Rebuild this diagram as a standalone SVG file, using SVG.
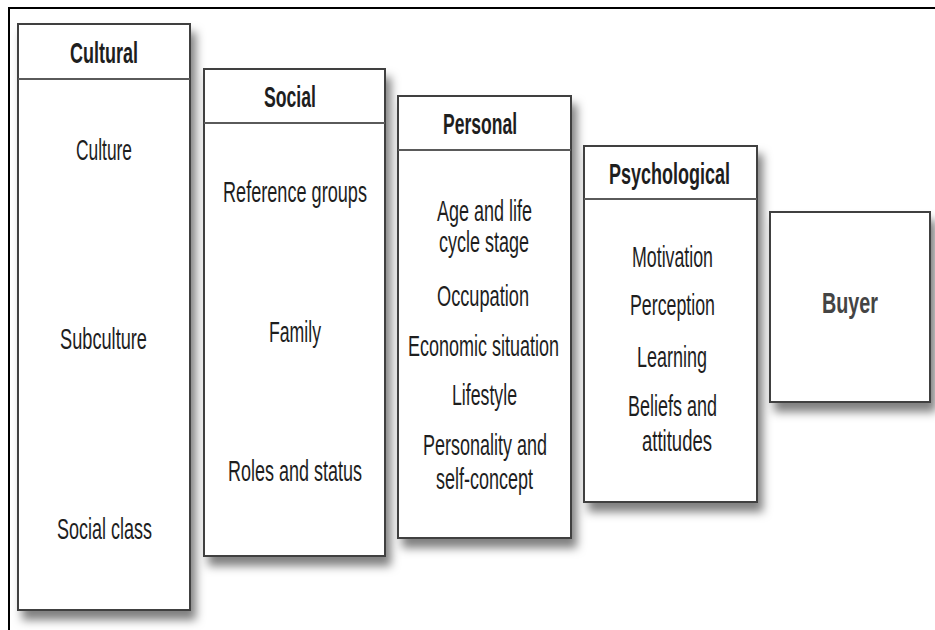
<svg xmlns="http://www.w3.org/2000/svg" width="935" height="630" viewBox="0 0 935 630">
<defs>
<filter id="sh" x="-20%" y="-20%" width="150%" height="150%">
<feDropShadow dx="5" dy="9" stdDeviation="5" flood-color="#000" flood-opacity="0.5"/>
</filter>
</defs>
<style>
.box{fill:#fff;stroke:#404040;stroke-width:2;filter:url(#sh)}
.div{stroke:#5a5a5a;stroke-width:2}
text{font-family:"Liberation Sans",Arial,sans-serif;font-size:30px;fill:#1e1e1e;text-anchor:middle}
.h{font-weight:bold}
.buyer{font-weight:bold;fill:#444}
</style>
<rect x="0" y="0" width="935" height="630" fill="#fff"/>
<rect x="9" y="8" width="940" height="640" fill="none" stroke="#000" stroke-width="2"/>
<g id="cultural">
<rect class="box" x="18" y="24" width="172" height="586"/>
<line class="div" x1="18" y1="79" x2="190" y2="79"/>
<text class="h" x="104" y="63" textLength="68" lengthAdjust="spacingAndGlyphs">Cultural</text>
<text x="104" y="160" textLength="56" lengthAdjust="spacingAndGlyphs">Culture</text>
<text x="103.5" y="349" textLength="87" lengthAdjust="spacingAndGlyphs">Subculture</text>
<text x="104.5" y="539" textLength="95" lengthAdjust="spacingAndGlyphs">Social class</text>
</g>
<g id="social">
<rect class="box" x="204" y="69" width="181" height="487"/>
<line class="div" x1="204" y1="123" x2="385" y2="123"/>
<text class="h" x="290" y="107" textLength="52" lengthAdjust="spacingAndGlyphs">Social</text>
<text x="295" y="202" textLength="144" lengthAdjust="spacingAndGlyphs">Reference groups</text>
<text x="295" y="342" textLength="52" lengthAdjust="spacingAndGlyphs">Family</text>
<text x="295" y="481" textLength="134" lengthAdjust="spacingAndGlyphs">Roles and status</text>
</g>
<g id="personal">
<rect class="box" x="398" y="96" width="173" height="442"/>
<line class="div" x1="398" y1="150" x2="571" y2="150"/>
<text class="h" x="480" y="134" textLength="74" lengthAdjust="spacingAndGlyphs">Personal</text>
<text x="484.5" y="221" textLength="95" lengthAdjust="spacingAndGlyphs">Age and life</text>
<text x="484" y="252" textLength="90" lengthAdjust="spacingAndGlyphs">cycle stage</text>
<text x="483" y="306" textLength="92" lengthAdjust="spacingAndGlyphs">Occupation</text>
<text x="483.5" y="356" textLength="151" lengthAdjust="spacingAndGlyphs">Economic situation</text>
<text x="484.5" y="405" textLength="65" lengthAdjust="spacingAndGlyphs">Lifestyle</text>
<text x="485" y="455" textLength="124" lengthAdjust="spacingAndGlyphs">Personality and</text>
<text x="484.5" y="489" textLength="97" lengthAdjust="spacingAndGlyphs">self-concept</text>
</g>
<g id="psychological">
<rect class="box" x="584" y="146" width="173" height="356"/>
<line class="div" x1="584" y1="199" x2="757" y2="199"/>
<text class="h" x="669.5" y="184" textLength="121" lengthAdjust="spacingAndGlyphs">Psychological</text>
<text x="672.5" y="267" textLength="81" lengthAdjust="spacingAndGlyphs">Motivation</text>
<text x="672.5" y="315" textLength="85" lengthAdjust="spacingAndGlyphs">Perception</text>
<text x="672" y="367" textLength="70" lengthAdjust="spacingAndGlyphs">Learning</text>
<text x="672.5" y="416" textLength="89" lengthAdjust="spacingAndGlyphs">Beliefs and</text>
<text x="677" y="451" textLength="70" lengthAdjust="spacingAndGlyphs">attitudes</text>
</g>
<g id="buyer">
<rect class="box" x="770" y="212" width="160" height="190"/>
<text class="buyer" x="850" y="313" textLength="56" lengthAdjust="spacingAndGlyphs">Buyer</text>
</g>
</svg>
